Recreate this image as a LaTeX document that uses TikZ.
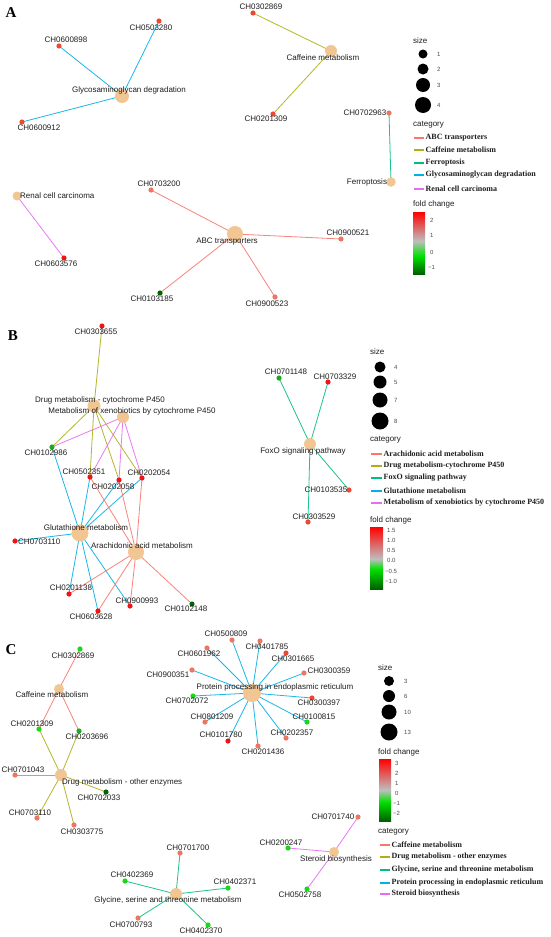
\documentclass[tikz,border=0pt]{standalone}
\usepackage{fontspec}
\setmainfont{Liberation Serif}
\setsansfont{Liberation Sans}
\newfontfamily\lblfont{Liberation Sans}
\definecolor{hubc}{RGB}{242,198,146}
\definecolor{eSal}{RGB}{248,118,109}
\definecolor{eOli}{RGB}{175,175,20}
\definecolor{eTea}{RGB}{0,191,125}
\definecolor{eBlu}{RGB}{0,176,230}
\definecolor{ePin}{RGB}{231,107,243}
\definecolor{fR}{RGB}{240,20,20}
\definecolor{fRo}{RGB}{238,72,50}
\definecolor{fS}{RGB}{236,118,96}
\definecolor{fG}{RGB}{25,215,25}
\definecolor{fGm}{RGB}{30,170,30}
\definecolor{fGd}{RGB}{0,100,0}
\definecolor{txt}{RGB}{30,30,30}
\definecolor{cbR}{RGB}{255,0,0}
\definecolor{cbGr}{RGB}{190,190,190}
\definecolor{cbG}{RGB}{0,225,0}
\definecolor{cbD}{RGB}{0,95,0}
\pgfdeclarelayer{bg}
\pgfdeclarelayer{fg}
\pgfsetlayers{bg,main,fg}
\newcommand\lf[5]{\node[leafdot=#2] (#1) at (#3) {};\begin{pgfonlayer}{fg}\node[lbl] (#1l) at (#4) {#5};\end{pgfonlayer}}
\newcommand\hb[5]{\node[hubnode=#2] (#1) at (#3) {};\begin{pgfonlayer}{fg}\node[lbl] (#1l) at (#4) {#5};\end{pgfonlayer}}
\begin{document}
\begin{tikzpicture}[x=1pt,y=-1pt,
  leafdot/.style={circle, fill=#1, inner sep=0pt, minimum size=5.2pt},
  hubnode/.style={circle, fill=hubc, inner sep=0pt, minimum size=#1},
  lbl/.style={font=\lblfont\fontsize{8}{9}\selectfont, text=txt, inner sep=0pt},
  ttl/.style={font=\lblfont\fontsize{8}{9}\selectfont, text=txt, inner sep=0pt, anchor=west},
  small/.style={font=\lblfont\fontsize{6}{7}\selectfont, text=txt!80, inner sep=0pt, anchor=west},
  cat/.style={font=\rmfamily\bfseries\fontsize{8}{9}\selectfont, text=txt, inner sep=0pt, anchor=west},
  panel/.style={font=\rmfamily\bfseries\fontsize{15}{16}\selectfont, inner sep=0pt},
  sz/.style={circle, fill=black, inner sep=0pt, minimum size=#1},
  ed/.style={draw=#1, line width=0.8pt, opacity=0.9},
  lgl/.style={draw=#1, line width=1.1pt}]
\useasboundingbox (0,0) rectangle (550,937);
\begin{pgfonlayer}{bg}
\fill[white] (0,0) rectangle (550,937);
\end{pgfonlayer}

% ================= Panel A =================
\node[panel] (pA) at (11,13) {A};
\hb{aGly}{14pt}{122,96}{129,90}{Glycosaminoglycan degradation}
\hb{aCaf}{12pt}{331,51}{323,58}{Caffeine metabolism}
\hb{aFer}{9.5pt}{391,182}{367,182}{Ferroptosis}
\node[hubnode=9pt] (aRen) at (17,196) {};
\begin{pgfonlayer}{fg}\node[lbl,anchor=west] (aRenl) at (20,196) {Renal cell carcinoma};\end{pgfonlayer}
\hb{aABC}{16pt}{235,234}{227,242}{ABC transporters}
\lf{a0503280}{fRo}{159,21}{151,28}{CH0503280}
\lf{a0600898}{fRo}{59,46}{66,40}{CH0600898}
\lf{a0600912}{fRo}{22,122}{39,128}{CH0600912}
\lf{a0302869}{fRo}{253,13}{261,7}{CH0302869}
\lf{a0201309}{fRo}{273,114}{266,119}{CH0201309}
\lf{a0702963}{fS}{389,113}{365,113}{CH0702963}
\lf{a0603576}{fR}{64,258}{56,264}{CH0603576}
\lf{a0703200}{fS}{151,190}{159,184}{CH0703200}
\lf{a0900521}{fS}{341,239}{348,233}{CH0900521}
\lf{a0103185}{fGd}{160,293}{152,299}{CH0103185}
\lf{a0900523}{fS}{275,297}{267,304}{CH0900523}
\begin{pgfonlayer}{bg}
\foreach \t in {a0503280,a0600898,a0600912} \draw[ed=eBlu] (aGly.center) -- (\t.center);
\foreach \t in {a0302869,a0201309} \draw[ed=eOli] (aCaf.center) -- (\t.center);
\draw[ed=eTea] (aFer.center) -- (a0702963.center);
\draw[ed=ePin] (aRen.center) -- (a0603576.center);
\foreach \t in {a0703200,a0900521,a0103185,a0900523} \draw[ed=eSal] (aABC.center) -- (\t.center);
\end{pgfonlayer}
% legend A
\node[ttl] (aSz) at (413,41) {size};
\node[sz=9pt] (aS1) at (423,54) {}; \node[small] (aS1l) at (437,54) {1};
\node[sz=11pt] (aS2) at (423,69) {}; \node[small] (aS2l) at (437,69) {2};
\node[sz=14pt] (aS3) at (423,85) {}; \node[small] (aS3l) at (437,85) {3};
\node[sz=16pt] (aS4) at (423,105) {}; \node[small] (aS4l) at (437,105) {4};
\node[ttl] (aCt) at (413,125) {category};
\coordinate (aL1a) at (414,138); \coordinate (aL1b) at (424,138);
\coordinate (aL2a) at (414,150); \coordinate (aL2b) at (424,150);
\coordinate (aL3a) at (414,163); \coordinate (aL3b) at (424,163);
\coordinate (aL4a) at (414,175); \coordinate (aL4b) at (424,175);
\coordinate (aL5a) at (414,189); \coordinate (aL5b) at (424,189);
\draw[lgl=eSal] (aL1a) -- (aL1b); \node[cat] (aC1) at (425.5,138) {ABC transporters};
\draw[lgl=eOli] (aL2a) -- (aL2b); \node[cat] (aC2) at (425.5,150) {Caffeine metabolism};
\draw[lgl=eTea] (aL3a) -- (aL3b); \node[cat] (aC3) at (425.5,163) {Ferroptosis};
\draw[lgl=eBlu] (aL4a) -- (aL4b); \node[cat] (aC4) at (425.5,175) {Glycosaminoglycan degradation};
\draw[lgl=ePin] (aL5a) -- (aL5b); \node[cat] (aC5) at (425.5,189) {Renal cell carcinoma};
\node[ttl] (aFc) at (413,204) {fold change};
\shade[top color=cbR, bottom color=cbGr] (413,212) rectangle (425,241);
\shade[top color=cbGr, bottom color=cbG] (413,241) rectangle (425,256);
\shade[top color=cbG, bottom color=cbD] (413,256) rectangle (425,274);
\node[small] (aB1) at (430,220) {2};
\node[small] (aB2) at (430,235) {1};
\node[small] (aB3) at (430,252) {0};
\node[small] (aB4) at (428,267) {−1};

% ================= Panel B =================
\node[panel] (pB) at (13,336) {B};
\hb{bDrug}{13pt}{94,406}{100,400}{Drug metabolism - cytochrome P450}
\hb{bXen}{12pt}{123,417}{132,411}{Metabolism of xenobiotics by cytochrome P450}
\hb{bGlu}{17pt}{80,533}{86,528}{Glutathione metabolism}
\hb{bAra}{16pt}{136,552}{142,546}{Arachidonic acid metabolism}
\hb{bFox}{12pt}{310,444}{303,451}{FoxO signaling pathway}
\lf{b0303655}{fR}{102,326}{96,332}{CH0303655}
\lf{b0102986}{fGm}{52,447}{46,453}{CH0102986}
\lf{b0502351}{fR}{90,477}{84,472}{CH0502351}
\lf{b0202058}{fR}{119,480}{113,487}{CH0202058}
\lf{b0202054}{fR}{142,478}{149,473}{CH0202054}
\node[leafdot=fR] (b0703110) at (15,541) {};
\begin{pgfonlayer}{fg}\node[lbl,anchor=west] (b0703110l) at (18,542) {CH0703110};\end{pgfonlayer}
\lf{b0201138}{fR}{69,594}{71,588}{CH0201138}
\lf{b0603628}{fR}{98,611}{91,617}{CH0603628}
\lf{b0900993}{fR}{130,606}{137,601}{CH0900993}
\lf{b0102148}{fGd}{192,604}{186,609}{CH0102148}
\lf{b0701148}{fGm}{279,378}{286,372}{CH0701148}
\lf{b0703329}{fR}{328,382}{335,377}{CH0703329}
\lf{b0103535}{fRo}{349,490}{326,490}{CH0103535}
\lf{b0303529}{fRo}{308,522}{314,517}{CH0303529}
\begin{pgfonlayer}{bg}
\foreach \t in {b0303655,b0102986,b0502351,b0202058,b0202054} \draw[ed=eOli] (bDrug.center) -- (\t.center);
\foreach \t in {b0102986,b0502351,b0202058,b0202054} \draw[ed=ePin] (bXen.center) -- (\t.center);
\foreach \t in {b0102986,b0502351,b0202058,b0202054,b0703110,b0201138,b0603628,b0900993} \draw[ed=eBlu] (bGlu.center) -- (\t.center);
\foreach \t in {b0502351,b0202058,b0202054,b0201138,b0603628,b0900993,b0102148} \draw[ed=eSal] (bAra.center) -- (\t.center);
\foreach \t in {b0701148,b0703329,b0103535,b0303529} \draw[ed=eTea] (bFox.center) -- (\t.center);
\end{pgfonlayer}
% legend B
\node[ttl] (bSz) at (370,352) {size};
\node[sz=11pt] (bS1) at (380,367) {}; \node[small] (bS1l) at (394,367) {4};
\node[sz=13pt] (bS2) at (380,382) {}; \node[small] (bS2l) at (394,382) {5};
\node[sz=15pt] (bS3) at (380,400) {}; \node[small] (bS3l) at (394,400) {7};
\node[sz=17pt] (bS4) at (380,421) {}; \node[small] (bS4l) at (394,421) {8};
\node[ttl] (bCt) at (370,440) {category};
\coordinate (bL1a) at (371,454); \coordinate (bL1b) at (382,454);
\coordinate (bL2a) at (371,466); \coordinate (bL2b) at (382,466);
\coordinate (bL3a) at (371,478); \coordinate (bL3b) at (382,478);
\coordinate (bL4a) at (371,491); \coordinate (bL4b) at (382,491);
\coordinate (bL5a) at (371,503); \coordinate (bL5b) at (382,503);
\draw[lgl=eSal] (bL1a) -- (bL1b); \node[cat] (bC1) at (383.5,454) {Arachidonic acid metabolism};
\draw[lgl=eOli] (bL2a) -- (bL2b); \node[cat] (bC2) at (383.5,466) {Drug metabolism-cytochrome P450};
\draw[lgl=eTea] (bL3a) -- (bL3b); \node[cat] (bC3) at (383.5,478) {FoxO signaling pathway};
\draw[lgl=eBlu] (bL4a) -- (bL4b); \node[cat] (bC4) at (383.5,491) {Glutathione metabolism};
\draw[lgl=ePin] (bL5a) -- (bL5b); \node[cat] (bC5) at (383.5,503) {Metabolism of xenobiotics by cytochrome P450};
\node[ttl] (bFc) at (370,520) {fold change};
\shade[top color=cbR, bottom color=cbGr] (370,527) rectangle (383,559);
\shade[top color=cbGr, bottom color=cbG] (370,559) rectangle (383,569);
\shade[top color=cbG, bottom color=cbD] (370,569) rectangle (383,589);
\node[small] (bB1) at (387,530) {1.5};
\node[small] (bB2) at (387,540) {1.0};
\node[small] (bB3) at (387,550) {0.5};
\node[small] (bB4) at (387,560) {0.0};
\node[small] (bB5) at (385,571) {−0.5};
\node[small] (bB6) at (385,581) {−1.0};

% ================= Panel C =================
\node[panel] (pC) at (11,650) {C};
\hb{cCaf}{10pt}{59,689}{52,695}{Caffeine metabolism}
\node[hubnode=12pt] (cDrug) at (61,775) {};
\begin{pgfonlayer}{fg}\node[lbl,anchor=west] (cDrugl) at (62,782) {Drug metabolism - other enzymes};\end{pgfonlayer}
\hb{cPro}{18pt}{252,693}{275,687}{Protein processing in endoplasmic reticulum}
\hb{cGly}{12pt}{176,894}{168,900}{Glycine, serine and threonine metabolism}
\hb{cSte}{10pt}{334,852}{336,859}{Steroid biosynthesis}
\lf{c0302869}{fG}{80,649}{73,656}{CH0302869}
\lf{c0201309}{fG}{39,729}{32,724}{CH0201309}
\lf{c0203696}{fGm}{79,731}{87,737}{CH0203696}
\lf{c0701043}{fS}{15,775}{23,770}{CH0701043}
\lf{c0702033}{fGd}{106,792}{99,798}{CH0702033}
\lf{c0703110}{fS}{37,818}{30,813}{CH0703110}
\lf{c0303775}{fS}{74,825}{82,832}{CH0303775}
\lf{c0500809}{fS}{232,640}{226,634}{CH0500809}
\lf{c0401785}{fS}{260,641}{267,647}{CH0401785}
\lf{c0301665}{fRo}{286,653}{293,659}{CH0301665}
\lf{c0300359}{fS}{304,673}{329,671}{CH0300359}
\lf{c0300397}{fRo}{312,698}{319,703}{CH0300397}
\lf{c0100815}{fG}{307,722}{314,717}{CH0100815}
\lf{c0202357}{fS}{286,738}{292,733}{CH0202357}
\lf{c0201436}{fS}{258,746}{263,752}{CH0201436}
\lf{c0101780}{fR}{228,741}{221,735}{CH0101780}
\lf{c0801209}{fS}{205,722}{212,717}{CH0801209}
\lf{c0702072}{fG}{193,696}{187,701}{CH0702072}
\lf{c0900351}{fS}{192,670}{168,675}{CH0900351}
\lf{c0601962}{fS}{207,648}{199,654}{CH0601962}
\lf{c0701700}{fS}{180,853}{188,848}{CH0701700}
\lf{c0402369}{fG}{125,881}{132,875}{CH0402369}
\lf{c0402371}{fG}{228,888}{235,882}{CH0402371}
\lf{c0700793}{fS}{138,918}{131,925}{CH0700793}
\lf{c0402370}{fG}{208,925}{201,931}{CH0402370}
\lf{c0701740}{fS}{358,817}{333,817}{CH0701740}
\lf{c0200247}{fG}{288,848}{281,843}{CH0200247}
\lf{c0502758}{fG}{307,889}{300,895}{CH0502758}
\begin{pgfonlayer}{bg}
\foreach \t in {c0302869,c0201309,c0203696} \draw[ed=eSal] (cCaf.center) -- (\t.center);
\foreach \t in {c0201309,c0203696,c0701043,c0702033,c0703110,c0303775} \draw[ed=eOli] (cDrug.center) -- (\t.center);
\foreach \t in {c0500809,c0401785,c0301665,c0300359,c0300397,c0100815,c0202357,c0201436,c0101780,c0801209,c0702072,c0900351,c0601962} \draw[ed=eBlu] (cPro.center) -- (\t.center);
\foreach \t in {c0701700,c0402369,c0402371,c0700793,c0402370} \draw[ed=eTea] (cGly.center) -- (\t.center);
\foreach \t in {c0701740,c0200247,c0502758} \draw[ed=ePin] (cSte.center) -- (\t.center);
\end{pgfonlayer}
% legend C
\node[ttl] (cSz) at (378,668) {size};
\node[sz=10pt] (cS1) at (389,681) {}; \node[small] (cS1l) at (404,681) {3};
\node[sz=12pt] (cS2) at (389,696) {}; \node[small] (cS2l) at (404,696) {6};
\node[sz=15pt] (cS3) at (389,712) {}; \node[small] (cS3l) at (404,712) {10};
\node[sz=17pt] (cS4) at (389,732) {}; \node[small] (cS4l) at (404,732) {13};
\node[ttl] (cFc) at (378,752) {fold change};
\shade[top color=cbR, bottom color=cbGr] (379,759) rectangle (391,790);
\shade[top color=cbGr, bottom color=cbG] (379,790) rectangle (391,802);
\shade[top color=cbG, bottom color=cbD] (379,802) rectangle (391,821);
\node[small] (cB1) at (395,763) {3};
\node[small] (cB2) at (395,773) {2};
\node[small] (cB3) at (395,783) {1};
\node[small] (cB4) at (395,793) {0};
\node[small] (cB5) at (393,803) {−1};
\node[small] (cB6) at (393,813) {−2};
\node[ttl] (cCt) at (378,832) {category};
\coordinate (cL1a) at (380,845); \coordinate (cL1b) at (390,845);
\coordinate (cL2a) at (380,857); \coordinate (cL2b) at (390,857);
\coordinate (cL3a) at (380,870); \coordinate (cL3b) at (390,870);
\coordinate (cL4a) at (380,883); \coordinate (cL4b) at (390,883);
\coordinate (cL5a) at (380,894); \coordinate (cL5b) at (390,894);
\draw[lgl=eSal] (cL1a) -- (cL1b); \node[cat] (cC1) at (391.5,845) {Caffeine metabolism};
\draw[lgl=eOli] (cL2a) -- (cL2b); \node[cat] (cC2) at (391.5,857) {Drug metabolism - other enzymes};
\draw[lgl=eTea] (cL3a) -- (cL3b); \node[cat] (cC3) at (391.5,870) {Glycine, serine and threonine metabolism};
\draw[lgl=eBlu] (cL4a) -- (cL4b); \node[cat] (cC4) at (391.5,883) {Protein processing in endoplasmic reticulum};
\draw[lgl=ePin] (cL5a) -- (cL5b); \node[cat] (cC5) at (391.5,894) {Steroid biosynthesis};
\end{tikzpicture}
\end{document}
